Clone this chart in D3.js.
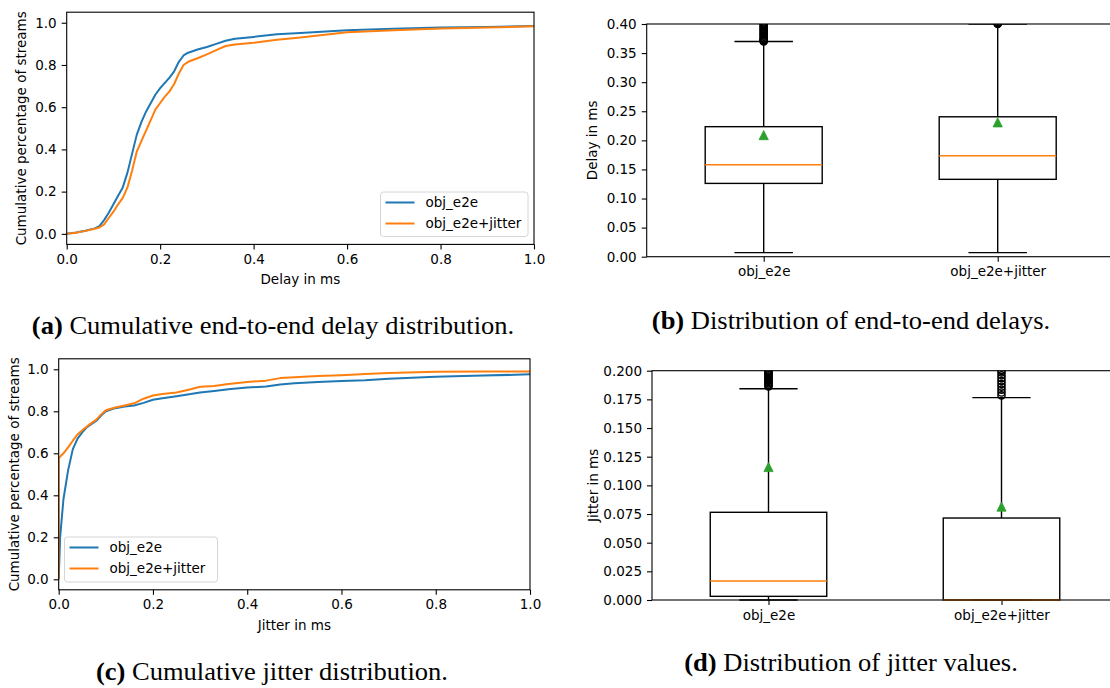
<!DOCTYPE html>
<html>
<head>
<meta charset="utf-8">
<script src="https://cdn.jsdelivr.net/npm/d3@7"></script>
<style>
  body { margin: 0; background: #fff; }
  svg { display: block; }
  .tick text { font-family: 'DejaVu Sans', sans-serif; font-size: 13.5px; fill: #000; }
  .tick line { stroke: #000; stroke-width: 1.1; }
  .domain { display: none; }
  .label { font-family: 'DejaVu Sans', sans-serif; font-size: 13.5px; fill: #000; }
  .caption { font-family: 'Liberation Serif', 'Times New Roman', Tinos, 'Nimbus Roman', 'DejaVu Serif Condensed', serif; font-size: 25px; fill: #000; }
</style>
</head>
<body>
<svg width="1110" height="688"></svg>
<script>
// Series names
var seriesNames = ['obj_e2e', 'obj_e2e+jitter']

// (a) delay CDF
var delayX = [0, 0.02, 0.04, 0.06, 0.07, 0.08, 0.09, 0.10, 0.11, 0.12, 0.13, 0.14, 0.15, 0.16, 0.17, 0.18, 0.19, 0.20,
  0.21, 0.22, 0.23, 0.24, 0.25, 0.26, 0.28, 0.30, 0.32, 0.34, 0.36, 0.40, 0.45, 0.50, 0.60, 0.70, 0.80, 0.90, 1.00]
var delayE2e = [0, 0.006, 0.015, 0.026, 0.037, 0.065, 0.10, 0.14, 0.18, 0.22, 0.29, 0.38, 0.47, 0.53, 0.58, 0.62, 0.66, 0.69,
  0.715, 0.74, 0.77, 0.815, 0.845, 0.858, 0.873, 0.885, 0.90, 0.915, 0.924, 0.933, 0.945, 0.952, 0.964, 0.972, 0.977, 0.98, 0.985]
var delayJit = [0, 0.005, 0.014, 0.024, 0.03, 0.045, 0.075, 0.105, 0.14, 0.17, 0.22, 0.30, 0.39, 0.44, 0.49, 0.54, 0.59, 0.62,
  0.65, 0.675, 0.71, 0.76, 0.80, 0.815, 0.832, 0.85, 0.87, 0.89, 0.897, 0.905, 0.92, 0.93, 0.955, 0.965, 0.973, 0.978, 0.983]

// (c) jitter CDF
var jitterE2eX = [0, 0.003, 0.01, 0.02, 0.03, 0.04, 0.05, 0.06, 0.07, 0.08, 0.09, 0.10, 0.12, 0.14, 0.16, 0.18, 0.20, 0.22,
  0.25, 0.28, 0.30, 0.33, 0.36, 0.40, 0.44, 0.47, 0.50, 0.55, 0.60, 0.65, 0.70, 0.80, 0.90, 1.00]
var jitterE2e = [0, 0.20, 0.38, 0.52, 0.62, 0.67, 0.70, 0.725, 0.74, 0.755, 0.78, 0.80, 0.815, 0.823, 0.828, 0.84, 0.855, 0.862,
  0.872, 0.882, 0.89, 0.897, 0.905, 0.913, 0.918, 0.928, 0.933, 0.94, 0.944, 0.948, 0.955, 0.965, 0.97, 0.976]
var jitterJitX = [0, 0, 0.01, 0.02, 0.03, 0.04, 0.05, 0.06, 0.07, 0.08, 0.09, 0.10, 0.12, 0.14, 0.16, 0.18, 0.20, 0.22,
  0.25, 0.28, 0.30, 0.33, 0.36, 0.40, 0.44, 0.47, 0.50, 0.55, 0.60, 0.65, 0.70, 0.80, 0.90, 1.00]
var jitterJit = [0, 0.577, 0.60, 0.628, 0.66, 0.69, 0.71, 0.728, 0.745, 0.76, 0.785, 0.805, 0.818, 0.828, 0.838, 0.86, 0.875, 0.882,
  0.89, 0.905, 0.917, 0.92, 0.93, 0.94, 0.946, 0.958, 0.962, 0.968, 0.972, 0.978, 0.982, 0.988, 0.99, 0.99]

// (b) delay boxplot stats
var delayLo = [0.007, 0.007]
var delayQ1 = [0.126, 0.133]
var delayMed = [0.158, 0.1735]
var delayQ3 = [0.2235, 0.2405]
var delayHi = [0.370, 0.400]
var delayMean = [0.209, 0.231]
var delayFliers = [
  [0.370, 0.371, 0.372, 0.373, 0.374, 0.376, 0.378, 0.380, 0.382, 0.384, 0.386, 0.388, 0.390, 0.392, 0.394, 0.396, 0.398, 0.400],
  [0.400, 0.401, 0.402, 0.403]
]

// (d) jitter boxplot stats
var jitterLo = [0, 0]
var jitterQ1 = [0.0032, 0]
var jitterMed = [0.0166, 0]
var jitterQ3 = [0.0765, 0.0715]
var jitterHi = [0.1843, 0.1765]
var jitterMean = [0.116, 0.0815]
var jitterFliers = [
  [0.1862, 0.187, 0.188, 0.189, 0.190, 0.191, 0.192, 0.193, 0.194, 0.195, 0.196, 0.197, 0.198, 0.199, 0.200],
  [0.1785, 0.181, 0.1835, 0.186, 0.1885, 0.191, 0.1935, 0.196, 0.1985, 0.2005]
]

// Sub-figure captions
var captionTags = ['(a)', '(b)', '(c)', '(d)']
var captionTexts = [
  ' Cumulative end-to-end delay distribution.',
  ' Distribution of end-to-end delays.',
  ' Cumulative jitter distribution.',
  ' Distribution of jitter values.'
]

var colors = ['#1f77b4', '#ff7f0e']
var svg = d3.select('svg')
var clipCount = 0

// Clip rect for an axes region
function addClip(l, t, r, b) {
  var id = 'clip' + (clipCount++)
  svg.append('clipPath').attr('id', id)
    .append('rect')
    .attr('x', l).attr('y', t)
    .attr('width', r - l).attr('height', b - t)
  return 'url(#' + id + ')'
}

function cdfPanel(o) {
  var x = d3.scaleLinear().domain([0, 1]).range([o.left, o.right])
  var y = d3.scaleLinear().domain([-0.05, 1.05]).range([o.bottom, o.top])
  var g = svg.append('g')
  var clip = addClip(o.left, o.top, o.right, o.bottom)

  var ticks = [0, 0.2, 0.4, 0.6, 0.8, 1.0]

  g.append('g')
    .attr('transform', 'translate(0,' + o.bottom + ')')
    .call(d3.axisBottom(x).tickValues(ticks).tickFormat(d3.format('.1f'))
      .tickSize(5).tickPadding(5).tickSizeOuter(0))

  g.append('g')
    .attr('transform', 'translate(' + o.left + ',0)')
    .call(d3.axisLeft(y).tickValues(ticks).tickFormat(d3.format('.1f'))
      .tickSize(5).tickPadding(5).tickSizeOuter(0))

  // Curves
  var line = d3.line().x(d => x(d[0])).y(d => y(d[1]))
  o.series.forEach(function(s, i) {
    g.append('path')
      .datum(d3.zip(s.x, s.y))
      .attr('d', line)
      .attr('fill', 'none')
      .attr('stroke', colors[i])
      .attr('stroke-width', 2)
      .attr('stroke-linejoin', 'round')
      .attr('clip-path', clip)
  })

  // Spines
  g.append('rect')
    .attr('x', o.left).attr('y', o.top)
    .attr('width', o.right - o.left).attr('height', o.bottom - o.top)
    .attr('fill', 'none').attr('stroke', '#000').attr('stroke-width', 1.1)

  // Axis labels
  g.append('text').attr('class', 'label')
    .attr('x', (o.left + o.right) / 2).attr('y', o.xlabelY)
    .attr('text-anchor', 'middle').attr('dy', '0.35em')
    .text(o.xlabel)

  g.append('text').attr('class', 'label')
    .attr('transform', 'translate(' + o.ylabelX + ',' + (o.top + o.bottom) / 2 + ') rotate(-90)')
    .attr('text-anchor', 'middle').attr('dy', '0.35em')
    .text('Cumulative percentage of streams')

  // Legend
  var L = o.legend
  var lg = g.append('g')
  lg.append('rect')
    .attr('x', L.x).attr('y', L.y).attr('width', L.w).attr('height', L.h)
    .attr('rx', 3)
    .attr('fill', '#fff').attr('fill-opacity', 0.8)
    .attr('stroke', '#d6d6d6').attr('stroke-width', 1)
  seriesNames.forEach(function(name, i) {
    var ly = L.y + 10.5 + i * 21
    lg.append('line')
      .attr('x1', L.x + 5).attr('x2', L.x + 34)
      .attr('y1', ly).attr('y2', ly)
      .attr('stroke', colors[i]).attr('stroke-width', 2)
    lg.append('text').attr('class', 'label')
      .attr('x', L.x + 45).attr('y', ly).attr('dy', '0.35em')
      .text(name)
  })
}

function boxPanel(o) {
  var x = d3.scaleLinear().domain([0.5, 2.5]).range([o.left, o.left + 2 * o.unit])
  var y = d3.scaleLinear().domain([0, o.ymax]).range([o.bottom, o.top])
  var right = o.left + 2 * o.unit
  var g = svg.append('g')
  var clip = addClip(o.left - 1, o.top, right, o.bottom + 1)

  g.append('g')
    .attr('transform', 'translate(0,' + o.bottom + ')')
    .call(d3.axisBottom(x).tickValues([1, 2]).tickFormat((d, i) => seriesNames[i])
      .tickSize(5).tickPadding(5).tickSizeOuter(0))

  g.append('g')
    .attr('transform', 'translate(' + o.left + ',0)')
    .call(d3.axisLeft(y).tickValues(o.yticks).tickFormat(d3.format(o.fmt))
      .tickSize(5).tickPadding(5).tickSizeOuter(0))

  var s = o.stats
  var boxes = g.append('g').attr('clip-path', clip)
  var lw = 1.4

  d3.range(2).forEach(function(i) {
    var p = i + 1
    var cx = x(p)

    // Whiskers
    boxes.append('line')
      .attr('x1', cx).attr('x2', cx)
      .attr('y1', y(s.q1[i])).attr('y2', y(s.lo[i]))
      .attr('stroke', '#000').attr('stroke-width', lw)
    boxes.append('line')
      .attr('x1', cx).attr('x2', cx)
      .attr('y1', y(s.q3[i])).attr('y2', y(s.hi[i]))
      .attr('stroke', '#000').attr('stroke-width', lw)

    // Caps
    ;[s.lo[i], s.hi[i]].forEach(function(v) {
      boxes.append('line')
        .attr('x1', x(p - 0.125)).attr('x2', x(p + 0.125))
        .attr('y1', y(v)).attr('y2', y(v))
        .attr('stroke', '#000').attr('stroke-width', lw)
    })

    // Box
    boxes.append('rect')
      .attr('x', x(p - 0.25)).attr('y', y(s.q3[i]))
      .attr('width', x(p + 0.25) - x(p - 0.25))
      .attr('height', y(s.q1[i]) - y(s.q3[i]))
      .attr('fill', 'none').attr('stroke', '#000').attr('stroke-width', lw)

    // Median
    boxes.append('line')
      .attr('x1', x(p - 0.25)).attr('x2', x(p + 0.25))
      .attr('y1', y(s.med[i])).attr('y2', y(s.med[i]))
      .attr('stroke', colors[1]).attr('stroke-width', lw)

    // Fliers
    boxes.selectAll(null)
      .data(s.fliers[i])
      .enter().append('circle')
      .attr('cx', cx).attr('cy', d => y(d))
      .attr('r', 3.6)
      .attr('fill', 'none').attr('stroke', '#000').attr('stroke-width', 1.4)

    // Mean marker
    boxes.append('path')
      .attr('d', 'M0,-4.6L4.6,4.6L-4.6,4.6Z')
      .attr('transform', 'translate(' + cx + ',' + y(s.mean[i]) + ')')
      .attr('fill', '#2ca02c').attr('stroke', '#2ca02c').attr('stroke-width', 0.8)
  })

  // Spines (right one falls off the page)
  g.append('rect')
    .attr('x', o.left).attr('y', o.top)
    .attr('width', right - o.left).attr('height', o.bottom - o.top)
    .attr('fill', 'none').attr('stroke', '#000').attr('stroke-width', 1.1)

  g.append('text').attr('class', 'label')
    .attr('transform', 'translate(' + o.ylabelX + ',' + (o.top + o.bottom) / 2 + ') rotate(-90)')
    .attr('text-anchor', 'middle').attr('dy', '0.35em')
    .text(o.ylabel)
}

// (a)
cdfPanel({
  left: 66.7, right: 534, top: 12.2, bottom: 244.4,
  series: [{x: delayX, y: delayE2e}, {x: delayX, y: delayJit}],
  xlabel: 'Delay in ms', xlabelY: 279, ylabelX: 21,
  legend: {x: 380.5, y: 192, w: 147.5, h: 44.5}
})

// (b)
boxPanel({
  left: 646.7, unit: 234, top: 24, bottom: 256.7, ymax: 0.4,
  yticks: [0, 0.05, 0.10, 0.15, 0.20, 0.25, 0.30, 0.35, 0.40], fmt: '.2f',
  stats: {lo: delayLo, q1: delayQ1, med: delayMed, q3: delayQ3, hi: delayHi, mean: delayMean, fliers: delayFliers},
  ylabel: 'Delay in ms', ylabelX: 592
})

// (c)
cdfPanel({
  left: 58.7, right: 530, top: 358.8, bottom: 589.8,
  series: [{x: jitterE2eX, y: jitterE2e}, {x: jitterJitX, y: jitterJit}],
  xlabel: 'Jitter in ms', xlabelY: 625, ylabelX: 14,
  legend: {x: 64.5, y: 537, w: 153, h: 45}
})

// (d)
boxPanel({
  left: 652, unit: 233, top: 370.7, bottom: 600, ymax: 0.2,
  yticks: [0, 0.025, 0.05, 0.075, 0.1, 0.125, 0.15, 0.175, 0.2], fmt: '.3f',
  stats: {lo: jitterLo, q1: jitterQ1, med: jitterMed, q3: jitterQ3, hi: jitterHi, mean: jitterMean, fliers: jitterFliers},
  ylabel: 'Jitter in ms', ylabelX: 593
})

// Captions, squeezed like the PDF rendering
var capPos = [[273, 334], [851, 329], [272, 680], [851, 671]]
var caps = captionTags.map(function(tag, i) {
  var t = svg.append('text').attr('class', 'caption')
    .attr('x', capPos[i][0]).attr('y', capPos[i][1])
    .attr('text-anchor', 'middle')
  t.append('tspan').attr('font-weight', 'bold').text(tag)
  t.append('tspan').text(captionTexts[i])
  return t
})

// Width of caption (c) sets the squeeze factor
var k = 352 / caps[2].node().getComputedTextLength()
caps.forEach(function(t) {
  var w = t.node().getComputedTextLength()
  t.attr('textLength', w * k).attr('lengthAdjust', 'spacingAndGlyphs')
})
</script>
</body>
</html>
